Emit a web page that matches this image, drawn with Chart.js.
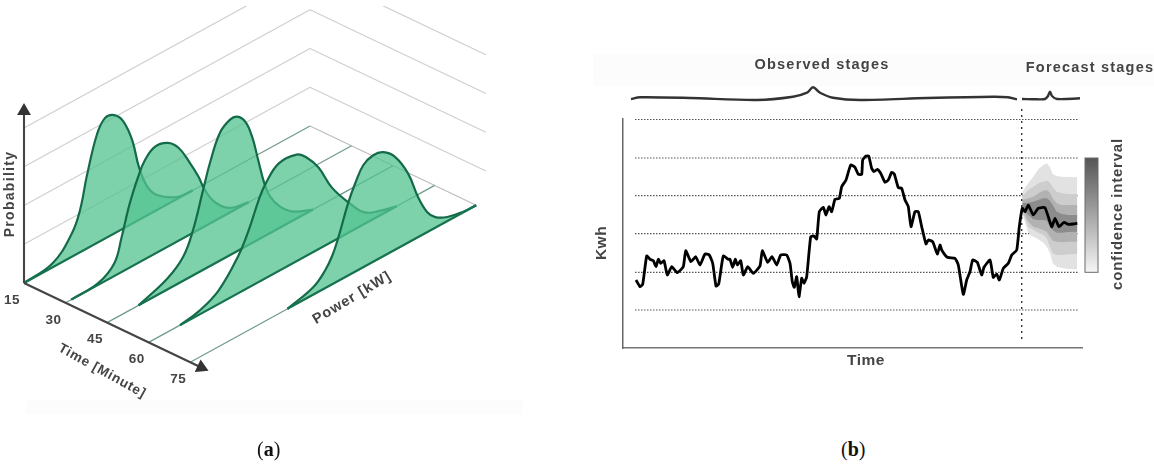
<!DOCTYPE html>
<html>
<head>
<meta charset="utf-8">
<title>Probability and forecast charts</title>
<script src="https://cdn.jsdelivr.net/npm/chart.js@4"></script>
<style>
  html, body { margin: 0; padding: 0; background: #fff; }
  body { position: relative; width: 1154px; height: 466px; overflow: hidden; }
  canvas { position: absolute; }
  #chart_a { left: 0; top: 0; }
  #chart_b { left: 590px; top: 50px; }
  .faixa { position: absolute; background: #fcfcfc; }
  .legenda { position: absolute; top: 438px; font: 20px "Liberation Serif", serif; color: #111; }
</style>
</head>
<body>
<div class="faixa" style="left:26px;top:400px;width:496px;height:14px"></div>
<div class="faixa" style="left:593px;top:54px;width:561px;height:32px"></div>
<canvas id="chart_a" width="540" height="466"></canvas>
<canvas id="chart_b" width="564" height="330"></canvas>
<span class="legenda" style="left:257px">(<b>a</b>)</span>
<span class="legenda" style="left:841px">(<b>b</b>)</span>

<script>
// (a) curves: power is 0-1 along the axis, prob is the height
var timeTicks = [15, 30, 45, 60, 75];
var probLevels = [0.25, 0.5, 0.75, 1];

var power15 = [0, 0.10, 0.168, 0.196, 0.22, 0.255, 0.283, 0.315, 0.346, 0.378, 0.402, 0.43, 0.465, 0.535, 0.59];
var prob15 = [0, 0.026, 0.152, 0.273, 0.47, 0.70, 0.777, 0.764, 0.695, 0.54, 0.34, 0.19, 0.097, 0.013, 0];

var power30 = [0.02, 0.115, 0.171, 0.196, 0.224, 0.255, 0.276, 0.311, 0.357, 0.395, 0.434, 0.465, 0.486, 0.521, 0.57, 0.64];
var prob30 = [0, 0.012, 0.084, 0.225, 0.41, 0.56, 0.635, 0.69, 0.67, 0.6, 0.465, 0.342, 0.24, 0.123, 0.035, 0];

var power45 = [0.11, 0.21, 0.266, 0.30, 0.336, 0.36, 0.395, 0.43, 0.455, 0.483, 0.507, 0.528, 0.549, 0.57, 0.605, 0.65, 0.72];
var prob45 = [0, 0.07, 0.155, 0.29, 0.518, 0.668, 0.826, 0.874, 0.868, 0.807, 0.686, 0.516, 0.347, 0.235, 0.135, 0.058, 0];

var power60 = [0.11, 0.175, 0.245, 0.315, 0.35, 0.385, 0.409, 0.455, 0.517, 0.552, 0.594, 0.64, 0.703, 0.755, 0.815, 0.867];
var prob60 = [0, 0.023, 0.088, 0.245, 0.37, 0.53, 0.61, 0.694, 0.688, 0.634, 0.527, 0.352, 0.185, 0.074, 0.026, 0];

var power75 = [0.34, 0.43, 0.472, 0.497, 0.517, 0.552, 0.577, 0.605, 0.64, 0.675, 0.717, 0.762, 0.797, 0.829, 0.857, 0.899, 0.955, 1];
var prob75 = [0, 0.048, 0.115, 0.185, 0.275, 0.466, 0.57, 0.658, 0.687, 0.671, 0.597, 0.445, 0.257, 0.128, 0.068, 0.026, 0.004, 0];

// (b) observed load
var obsTime = [13, 17, 19.7, 23.7, 27, 30.3, 33, 35.3, 37.7, 41, 44.3, 48.7, 54.3, 60.3, 62.7, 68, 72.7, 77, 82, 86.3, 89.7, 93, 95.7, 100.3, 105.3, 107, 109.7, 112.3, 114.3, 117.7, 120.3, 124.7, 130.3, 137, 139.3, 144.7, 149, 153.7, 157.7, 163.7, 167, 169.3, 171.3, 173.7, 176, 178.7, 181, 183.7, 187.7, 191, 193.7, 196.3, 200.3, 203, 206, 208.7, 212, 216.3, 218.7, 223, 227.7, 232, 235.3, 238.7, 239.7, 243, 245.7, 248.7, 251, 254.3, 257.7, 262, 265.3, 268.7, 271.3, 275.3, 278.7, 282, 285.3, 288, 292, 295.3, 298.7, 303, 305.3, 309.7, 314.3, 317, 318.7, 324.3, 332, 335.3, 340.3, 343.7, 347, 349.7, 354.3, 358.7, 361, 367, 370.3, 373.7, 376.3, 380.3, 385.3, 388.7, 393.7, 396.3, 399.3, 402, 405.3, 410.3, 415.3, 422, 428.7, 432, 436, 441, 445.3, 450.3, 454.3];
var obsKwh = [68, 61.3, 63.7, 92, 88.7, 87.3, 81.3, 88.7, 84.7, 87.3, 73, 81.3, 75.3, 81.3, 97.3, 86.3, 91.3, 83, 94, 93, 84.7, 62, 64, 92, 88.7, 88.7, 80.7, 88.7, 83, 87.3, 73, 81.3, 74.7, 82, 97.3, 85.7, 91.3, 83, 93, 93, 84.7, 66.3, 60.7, 71.3, 51.3, 69.7, 64.7, 71.3, 111.3, 112, 109, 136.3, 140.7, 133, 141.3, 136.3, 148.7, 149.7, 161.3, 168, 183, 180.7, 173.7, 173.7, 188, 192, 192, 179.7, 176.3, 178.7, 174.7, 165.7, 168, 175.7, 174, 160.3, 159.7, 148, 141.3, 121.3, 136.3, 136.3, 121.3, 104, 108, 106.3, 94, 103, 98, 90.7, 89.7, 83, 53.7, 68, 76.3, 88, 85.7, 73, 80.7, 88, 70.7, 74, 68, 79.7, 84.7, 93, 98, 121.3, 139.7, 136.3, 143, 133, 139.7, 140.3, 121.3, 129.7, 121.3, 125.7, 123.7, 124, 124.7];

// (b) forecast bands, outermost to innermost
var bandTime = [399.3, 405.3, 410.3, 415.3, 420.3, 423.7, 427, 429.7, 433.7, 438.7, 445.3, 454.3];
var band1Up = [156.3, 164.7, 171.3, 178.7, 183, 184.7, 180.7, 174, 172, 171.3, 171, 170.7];
var band1Low = [134.7, 115.3, 111.3, 108.7, 105.3, 101.3, 94.7, 84.7, 81.3, 80, 79, 78.7];
var band2Up = [151.3, 158, 161.3, 164.7, 166.3, 167.3, 165.3, 160.7, 156.3, 154.7, 154, 154];
var band2Low = [136.3, 121.3, 118, 115.3, 113, 109.7, 101.3, 94.7, 93, 93, 93.7, 94];
var band3Up = [148, 149.7, 151.3, 154.7, 157.3, 158, 155.3, 149.7, 144.7, 143, 143, 143];
var band3Low = [138, 126.3, 121.3, 119.7, 118, 116.3, 111.3, 107.3, 106.3, 105.7, 106.3, 106.3];
var band4Up = [144.7, 145.3, 146.3, 148, 149.7, 149.7, 147.3, 143, 136.3, 134, 133, 133];
var band4Low = [138.7, 133, 128.7, 128, 128, 127.3, 121.3, 118, 115.3, 115.3, 116, 116.3];

var gridKwh = [38, 75.7, 114.3, 152.3, 190, 228.7];

var braceObsTime = [8, 17, 67, 134, 170, 184, 190, 197, 210, 237, 304, 370, 385, 394];
var braceObsKwh = [249, 250.7, 250, 248, 251.3, 255.3, 260.7, 255.3, 250.3, 248, 250, 251.3, 250.7, 248.7];
var braceForeTime = [399, 414, 422, 425, 427, 429, 434, 457];
var braceForeKwh = [249, 248.7, 249, 252, 256.3, 252, 249, 249.7];

// projection of the 3D panel (a)
function projetar(t, p, h) {
  return {
    x: 24 + (t - 15) * 2.77 + p * 286,
    y: 283 + (t - 15) * 1.32 - p * 157 - h * 155
  };
}

function juntar(lista_x, lista_y) {
  return lista_x.map(function (v, i) { return { x: v, y: lista_y[i] }; });
}

function texto(ctx, str, x, y, ang, fonte, cor, espaco) {
  ctx.save();
  ctx.translate(x, y);
  ctx.rotate(ang * Math.PI / 180);
  ctx.font = fonte;
  ctx.fillStyle = cor;
  ctx.letterSpacing = espaco || '0px';
  ctx.textAlign = 'center';
  ctx.textBaseline = 'middle';
  ctx.fillText(str, 0, 0);
  ctx.restore();
}

function fonte(px) {
  return 'bold ' + px + 'px "Liberation Sans", sans-serif';
}

// ---------- panel (a) ----------
var dados_a = [];

function linha3d(pontos, cor, largura, ordem, extra) {
  var ds = { data: pontos, borderColor: cor, borderWidth: largura, showLine: true, pointRadius: 0, order: ordem };
  if (extra) { Object.assign(ds, extra); }
  dados_a.push(ds);
  return dados_a.length - 1;
}

// walls behind the curves
probLevels.forEach(function (nivel) {
  linha3d([projetar(15, 0, nivel), projetar(15, 1, nivel)], '#cfcfcf', 1.2, 300);
  linha3d([projetar(15, 1, nivel), projetar(78.5, 1, nivel)], '#cfcfcf', 1.2, 300);
});
linha3d([projetar(15, 1, 0), projetar(75, 1, 0)], '#bdbdbd', 1.2, 300);

var fatias = [
  { t: 15, power: power15, prob: prob15 },
  { t: 30, power: power30, prob: prob30 },
  { t: 45, power: power45, prob: prob45 },
  { t: 60, power: power60, prob: prob60 },
  { t: 75, power: power75, prob: prob75 }
];

fatias.forEach(function (f, i) {
  var ordem = 200 - i * 10;
  var ultimo = f.power[f.power.length - 1];
  linha3d([projetar(f.t, 0, 0), projetar(f.t, 1, 0)], '#6f9c8b', 1.3, ordem + 2);
  var base = linha3d([projetar(f.t, f.power[0], 0), projetar(f.t, ultimo, 0)], '#17734f', 2.2, ordem);
  var curva = f.power.map(function (p, j) { return projetar(f.t, p, f.prob[j]); });
  linha3d(curva, '#146b49', 2.2, ordem + 1, {
    tension: 0.4,
    fill: { target: base },
    backgroundColor: 'rgba(84,196,146,0.76)'
  });
});

// axes with arrow heads
linha3d([projetar(15, 0, 0), projetar(15, 0, 1.11)], '#444', 2.1, 5, {
  pointStyle: 'triangle', pointRadius: [0, 8], pointBackgroundColor: '#333', pointBorderWidth: 0
});
linha3d([projetar(15, 0, 0), projetar(79, 0, 0)], '#444', 2.1, 5, {
  pointStyle: 'triangle', pointRadius: [0, 8], pointRotation: 115, pointBackgroundColor: '#333', pointBorderWidth: 0
});

var textos_a = {
  id: 'textos_a',
  afterDraw: function (chart) {
    var ctx = chart.ctx;
    var sx = chart.scales.x, sy = chart.scales.y;
    timeTicks.forEach(function (t) {
      var p = projetar(t, 0, 0);
      texto(ctx, String(t), sx.getPixelForValue(p.x) - 12, sy.getPixelForValue(p.y) + 17, 0, fonte(13.5), '#444', '0.5px');
    });
    texto(ctx, 'Time [Minute]', 102, 371, 29, fonte(13.5), '#444', '0.8px');
    texto(ctx, 'Power [kW]', 352, 298, -31, fonte(14.5), '#444', '1px');
    texto(ctx, 'Probability', 10, 194, -90, fonte(14), '#444', '1.3px');
  }
};

new Chart(document.getElementById('chart_a'), {
  type: 'scatter',
  data: { datasets: dados_a },
  plugins: [textos_a],
  options: {
    responsive: false,
    animation: false,
    layout: { autoPadding: false, padding: { top: 6 } },
    plugins: { legend: { display: false }, tooltip: { enabled: false } },
    scales: {
      x: { type: 'linear', display: false, min: 0, max: 540 },
      y: { type: 'linear', display: false, min: 6, max: 466, reverse: true }
    }
  }
});

// ---------- panel (b) ----------
var dados_b = [];

var faixas = [
  { up: band1Up, low: band1Low, cor: '#e2e2e2' },
  { up: band2Up, low: band2Low, cor: '#cdcdcd' },
  { up: band3Up, low: band3Low, cor: '#b2b2b2' },
  { up: band4Up, low: band4Low, cor: '#8c8c8c' }
];

gridKwh.forEach(function (nivel) {
  dados_b.push({
    data: [{ x: 12, y: nivel }, { x: 455, y: nivel }],
    borderColor: '#555', borderWidth: 1.2, borderDash: [1.5, 1.5],
    showLine: true, pointRadius: 0, order: 50
  });
});

faixas.forEach(function (f, i) {
  dados_b.push({
    data: juntar(bandTime, f.up), showLine: true, pointRadius: 0, borderWidth: 0,
    fill: { target: dados_b.length + 1 }, backgroundColor: f.cor, order: 40 - i
  });
  dados_b.push({
    data: juntar(bandTime, f.low), showLine: true, pointRadius: 0, borderWidth: 0, order: 40 - i
  });
});

dados_b.push({
  data: [{ x: 398.7, y: 239 }, { x: 398.7, y: 8 }],
  borderColor: '#333', borderWidth: 1.4, borderDash: [2, 4],
  showLine: true, pointRadius: 0, clip: false, order: 5
});
dados_b.push({
  data: juntar(obsTime, obsKwh), borderColor: '#000', borderWidth: 2.8,
  tension: 0.15, borderJoinStyle: 'round',
  showLine: true, pointRadius: 0, order: 1
});
[[braceObsTime, braceObsKwh], [braceForeTime, braceForeKwh]].forEach(function (b) {
  dados_b.push({
    data: juntar(b[0], b[1]), borderColor: '#333', borderWidth: 2.4, tension: 0.3,
    showLine: true, pointRadius: 0, clip: false, order: 2
  });
});

var textos_b = {
  id: 'textos_b',
  afterDraw: function (chart) {
    var ctx = chart.ctx;
    var sx = chart.scales.x, sy = chart.scales.y;
    // colour bar of the confidence interval, between two grid levels
    var x0 = sx.getPixelForValue(462), x1 = sx.getPixelForValue(475);
    var y0 = sy.getPixelForValue(gridKwh[4]), y1 = sy.getPixelForValue(gridKwh[1]);
    var grad = ctx.createLinearGradient(0, y0, 0, y1);
    grad.addColorStop(0, '#555');
    grad.addColorStop(0.5, '#a5a5a5');
    grad.addColorStop(1, '#f6f6f6');
    ctx.fillStyle = grad;
    ctx.fillRect(x0, y0, x1 - x0, y1 - y0);
    ctx.strokeStyle = '#6a6a6a';
    ctx.lineWidth = 1;
    ctx.strokeRect(x0, y0, x1 - x0, y1 - y0);

    texto(ctx, 'Observed stages', 232, 15, 0, fonte(14.5), '#444', '1.2px');
    texto(ctx, 'Forecast stages', 500, 18, 0, fonte(14.5), '#444', '1.2px');
    texto(ctx, 'confidence interval', 528, 164, -90, fonte(15), '#444', '0.8px');
    texto(ctx, 'Time', 276, 311, 0, fonte(15.5), '#444', '0.5px');
    texto(ctx, 'Kwh', 12, 193, -90, fonte(15.5), '#444', '0.5px');
  }
};

new Chart(document.getElementById('chart_b'), {
  type: 'scatter',
  data: { datasets: dados_b },
  plugins: [textos_b],
  options: {
    responsive: false,
    animation: false,
    layout: { autoPadding: false, padding: { top: 69, right: 72, left: 0, bottom: 0 } },
    plugins: { legend: { display: false }, tooltip: { enabled: false } },
    scales: {
      x: {
        type: 'linear', min: 0, max: 459,
        grid: { display: false },
        ticks: { display: false },
        border: { color: '#777', width: 1.5 },
        afterFit: function (s) { s.height = 32; }
      },
      y: {
        type: 'linear', min: 0, max: 229,
        grid: { display: false },
        ticks: { display: false },
        border: { color: '#666', width: 1.5 },
        afterFit: function (s) { s.width = 33; }
      }
    }
  }
});
</script>
</body>
</html>
